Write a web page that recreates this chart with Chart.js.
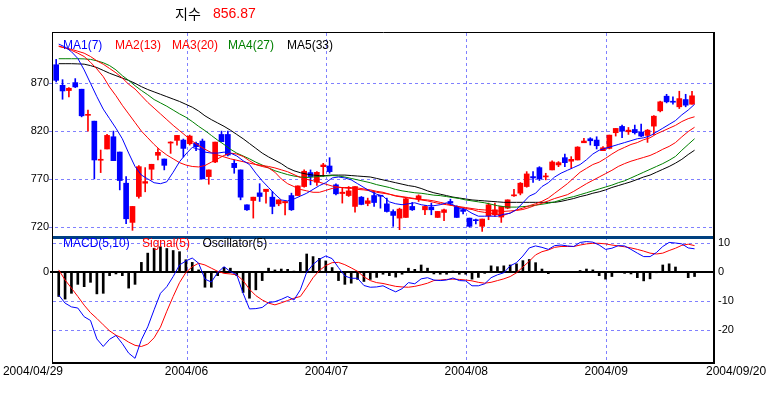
<!DOCTYPE html>
<html><head><meta charset="utf-8">
<script src="https://cdn.jsdelivr.net/npm/chart.js@4"></script>
<style>html,body{margin:0;padding:0;background:#fff;}canvas{display:block;}</style>
</head><body>
<canvas id="c" width="770" height="395"></canvas>
<script>
// ---------- data ----------
const firstDate = '2004/04/29';
const lastDate = '2004/09/20';
const monthLabels = ['2004/06', '2004/07', '2004/08', '2004/09'];
const monthStarts = [21, 43, 65, 87];           // trading-day index where each month begins
const slotCount = 103.8;                         // day slots shown on the x axis
const priceTicks = [720, 770, 820, 870];
const macdTicks = [10, 0, -10, -20];
const titleName = '지수';
const titleValue = '856.87';
const maNames = ['MA1(7)', 'MA2(13)', 'MA3(20)', 'MA4(27)', 'MA5(33)'];
const macdNames = ['MACD(5,10)', 'Signal(5)', 'Oscillator(5)'];

const opens = [889.4,867.9,862.4,870.7,863.8,836.5,830.4,789.5,801.3,814.1,
 798.1,765.5,724.5,751.6,765.5,780.1,794.7,790.8,807.5,810.3,
 810.6,806.8,807.2,809.6,772.4,787.7,816.5,816.5,786.3,779.4,
 742.9,747.4,755.4,756.8,750.9,743.9,745.0,752.6,752.6,762.0,
 776.6,766.5,782.8,783.5,763.8,754.7,752.6,741.2,750.9,744.3,
 752.6,752.6,743.9,735.9,729.0,729.7,741.2,749.2,737.7,740.5,
 729.7,734.9,746.4,741.2,737.7,729.0,726.9,720.4,731.5,732.5,
 730.1,739.4,752.3,755.1,762.0,772.4,781.8,772.1,779.4,784.6,
 792.2,788.5,789.8,807.8,812.0,810.6,799.5,801.9,818.3,824.9,
 819.3,821.7,819.0,815.5,825.2,841.2,856.5,850.9,845.4,853.0,
 848.1];
const highs = [895.0,873.8,865.5,874.9,863.8,841.9,830.4,800.2,816.5,820.0,
 798.1,772.4,741.2,783.9,781.8,785.3,801.6,790.8,808.9,815.5,
 811.7,815.8,808.5,811.7,779.4,808.5,820.0,820.0,789.8,779.4,
 742.9,750.9,765.0,759.2,756.8,748.1,746.4,755.1,762.7,779.4,
 779.4,777.6,786.3,792.2,764.8,760.3,762.0,762.0,751.6,749.9,
 756.8,752.6,749.9,737.7,739.4,749.9,745.4,753.3,742.2,744.7,
 736.0,738.4,748.8,741.9,739.4,729.0,728.0,728.0,744.7,744.7,
 741.2,748.1,759.2,766.2,777.6,777.6,782.8,775.9,788.8,788.1,
 796.0,793.3,803.7,812.4,813.1,814.1,803.7,815.8,822.8,826.3,
 823.8,826.3,827.3,821.7,836.3,851.3,858.5,855.8,861.7,858.5,
 861.7];
const lows = [871.4,853.3,855.8,865.5,834.9,820.0,770.0,776.6,801.3,789.1,
 758.5,723.1,716.2,749.9,756.5,769.0,789.8,779.4,796.7,805.4,
 792.9,805.4,799.5,770.0,764.4,787.0,808.9,794.0,775.9,748.1,
 737.0,729.0,746.4,744.7,733.5,741.9,732.2,737.0,752.6,761.3,
 763.8,763.1,772.4,775.9,753.3,744.7,751.6,735.1,742.9,741.9,
 741.2,739.4,735.3,720.4,716.9,729.7,737.0,746.4,732.5,732.5,
 729.7,726.3,742.9,729.7,733.5,719.7,722.8,715.1,727.3,730.8,
 724.5,738.8,751.6,753.3,761.3,766.2,768.3,769.0,779.4,782.8,
 782.8,781.1,789.8,807.8,805.4,801.3,799.5,801.3,814.8,813.1,
 816.5,816.9,814.1,808.2,816.2,840.1,849.5,848.1,843.6,845.4,
 848.1];
const closes = [873.1,862.0,864.8,866.2,836.0,837.0,789.8,790.0,815.5,789.1,
 768.3,728.3,741.2,782.8,767.2,785.3,797.8,784.2,808.2,815.5,
 801.9,814.8,803.7,770.0,779.4,808.5,808.9,795.0,781.8,750.9,
 737.7,750.9,751.6,759.2,741.2,748.1,746.4,737.7,762.7,778.0,
 772.4,776.9,784.6,777.6,754.4,756.1,757.5,762.0,743.3,747.1,
 745.3,751.9,735.9,731.8,738.4,749.2,737.7,752.3,741.2,737.7,
 736.0,737.7,744.7,729.7,736.0,720.4,726.3,728.0,742.9,737.7,
 741.2,748.1,753.0,765.5,775.2,771.0,770.0,772.8,787.7,787.0,
 787.0,790.5,803.3,809.6,809.9,804.7,802.6,815.8,822.8,820.0,
 821.0,818.3,814.8,821.0,835.6,850.6,850.6,850.2,854.0,847.1,
 856.9];

const ma1 = [911,908,903,896,884,870,856,843,833,823,
 812,797,783,774,770,766,765,767,777,788,
 796,803,801,798,797,797,798,797,794,789,
 785,776,768,761,754,748,747,749,752,755,
 759,763,766,771,772,771,769,765,761,757,
 754,752,746,744,743,744,745,743,742,742,
 743,745,743,739,738,734,731,731,731,731,
 733,734,738,745,752,755,762,766,772,776,
 779,782,785,790,796,800,802,804,806,808,
 810,812,813,815,819,823,827,831,837,842,
 848];
const ma2 = [909,907,904.5,901.5,898,892,885,877,866,857,
 847,838,829,820,813,806,800,795,791,787,
 784.5,783,782.5,784,787.5,791,794.5,797,796,793.5,
 789,785,783,781.5,777,770,765,762,759,757.5,
 756,756,758,760,761,761,761,760.5,759.5,758.5,
 757,756,754,752,751,750,749,748,747,745.5,
 744,743,742,740.5,739,738,736,735,734,733,
 732,734.5,737.5,739.5,742,744,746.5,750,755,760,
 765,771,777,781,785,787.5,791.5,796,800,803,
 806,808,811,813,817,820,823,826,830,833,
 835];
const ma3 = [908.5,907,905.5,903.5,901.5,898,893.5,890,885.5,881,
 875.5,869,864,857,850,844,838,832,826,820.5,
 815,809.5,805,801,797.5,795,793,791,789.5,788,
 786.5,785,784,783,781.5,779.5,777.5,774.5,771.5,769.5,
 768,766.5,764.5,762.5,761.5,760.5,760,759,758.5,757.5,
 756,755,754,752.5,751.5,750.5,749.5,748.5,748,747,
 745.5,744,742,741,740,739,738,737.5,737,736.5,
 736,736.5,737,738,740,742.5,744.5,747,749.5,751.5,
 753.5,757,761,765,768.5,772,775.5,779,783,786,
 788.5,790.5,792.5,794.5,797.5,801,804,808,814,819.5,
 824];
const ma4 = [895.7,895.7,895.7,895.7,895.5,895,893.5,891.5,888.5,884,
 878,873,867.5,862.5,858,853,849.5,846,842,838,
 834.5,830,825,820.5,815.5,810.5,806,801,797,794,
 791,787.5,784.5,781.5,778.5,776.5,774.5,773,772,771.5,
 772,772.5,773,773.5,773,772,770.5,769,767.5,766,
 764,762.5,761,759,757.5,756.5,755.5,755,754,753,
 752.5,751.5,750.5,749.5,748,747,746,745,743.5,742,
 741,740.5,740.5,741,741.5,742.5,743.5,744.5,746,748,
 750,751.5,753.5,755.5,757.5,759.5,761.5,763.5,766,768,
 771,774,777,780,783,786,789.5,793.5,800,806,
 812];
const ma5 = [890.5,890.5,890.5,890.3,890,888.5,886.5,883.5,880.5,878,
 875.5,873,870,866.5,863.5,861,858.5,856,853.5,851,
 848,845,841,836,832,828.5,825,821,816.5,812,
 807,802,797,793,789.5,786,781.5,778.5,776.5,775,
 774,773.5,773.5,774,774,774,773.5,773,772.5,772,
 770.5,769,767.5,766,764.5,763,762,760,757.5,755.5,
 754,752.5,751,750,749,748,747.5,747,746.5,746,
 745.5,745.5,745.5,745.5,745.5,745.5,745.5,745.5,745.5,746.5,
 748,749.5,751.5,753,755,756.5,758.5,761,763,765,
 767,769.5,772,774,777,780,783,786.5,790.5,795.5,
 800];

const macd = [-7.9,-10.7,-12.0,-12.4,-15.4,-16.7,-23.1,-25.7,-23.2,-21.9,
 -24.7,-28.0,-29.8,-23.4,-18.9,-13.0,-7.3,-5.0,-1.5,2.5,
 3.9,4.9,3.1,-2.4,-3.4,-0.1,1.9,0.2,-0.9,-7.3,
 -12.7,-12.6,-12.2,-10.5,-10.2,-9.4,-8.4,-9.6,-6.1,0.0,
 2.7,4.5,5.6,4.7,1.6,-1.3,-2.1,-2.1,-4.6,-5.2,
 -5.1,-4.7,-5.8,-6.8,-5.7,-3.6,-4.0,-2.3,-1.9,-2.7,
 -2.9,-2.7,-2.0,-2.9,-3.0,-4.7,-4.7,-4.0,-1.9,-0.9,
 -0.2,2.2,3.3,5.6,8.4,9.1,8.6,7.9,9.2,9.4,
 9.1,8.9,10.3,10.6,10.4,9.4,7.9,8.3,9.2,9.1,
 7.9,6.6,5.4,5.4,6.8,8.9,10.3,10.1,9.8,8.4,
 8.1];
const signal = [0.8,-2.7,-5.5,-8.4,-11.4,-14.0,-16.0,-18.2,-20.3,-21.8,
 -22.8,-24.2,-25.3,-25.7,-24.9,-22.7,-19.0,-13.5,-8.4,-3.6,
 -0.1,1.9,3.1,2.5,1.4,0.3,-0.4,-0.6,-0.9,-2.9,
 -5.9,-8.1,-9.6,-10.7,-11.3,-10.6,-9.8,-9.0,-8.4,-5.3,
 -1.9,0.6,2.3,3.3,3.4,2.6,1.5,0.3,-1.6,-2.9,
 -3.6,-3.9,-4.4,-4.9,-5.1,-5.2,-4.9,-4.4,-3.8,-2.9,
 -2.7,-2.5,-2.4,-2.5,-2.7,-3.0,-3.5,-3.8,-3.5,-2.9,
 -2.3,-1.5,-0.2,1.8,3.8,6.0,7.1,7.7,8.6,8.9,
 8.9,8.9,9.4,9.8,10.0,10.0,9.8,9.4,9.1,8.8,
 8.4,7.9,7.3,6.6,6.3,6.6,7.5,8.3,9.3,9.7,
 9.2];
const osc = [-8.4,-9.3,-7.3,-4.2,-5.0,-3.5,-7.5,-7.3,-1.2,-0.6,
 -1.2,-5.5,-4.2,3.4,6.6,8.3,8.8,8.2,7.5,7.1,
 4.3,3.4,0.8,-5.2,-5.2,-1.2,1.7,1.4,-1.2,-7.0,
 -9.0,-6.1,-2.9,1.4,0.8,1.1,1.0,0.4,3.4,6.3,
 5.4,4.8,3.9,1.6,-2.9,-4.2,-3.8,-2.5,-3.2,-2.5,
 -1.8,-0.7,-1.2,-1.7,-0.7,1.4,1.0,2.5,1.4,-0.6,
 -0.7,-0.7,0.4,-0.7,-0.7,-2.4,-1.8,-0.4,2.2,1.9,
 2.2,2.5,2.9,4.0,4.4,3.3,1.1,-0.5,0.3,0.3,
 0.1,0.1,0.6,1.1,0.8,-1.2,-2.4,-1.5,-0.1,-0.4,
 -0.6,-1.9,-3.0,-2.3,-0.2,2.5,2.9,1.8,0.3,-1.9,
 -1.5];

// ---------- styling ----------
const UP = '#ff0000', DOWN = '#0000ff';
const GRID = '#8080ff';
const FONT = '"Liberation Sans", Arial, sans-serif';
function hasFont(name) {
  const c = document.createElement('canvas').getContext('2d');
  const s = '2004/06 870 MA1(7)';
  c.font = '14px monospace'; const a = c.measureText(s).width;
  c.font = '14px serif'; const b = c.measureText(s).width;
  c.font = '14px "' + name + '", monospace'; const a2 = c.measureText(s).width;
  c.font = '14px "' + name + '", serif'; const b2 = c.measureText(s).width;
  return a2 !== a && b2 !== b;
}
const NARROW = hasFont('Liberation Sans Narrow');
const AXIS_FAMILY = NARROW ? '"Liberation Sans Narrow", "Liberation Sans", sans-serif' : FONT;
const X_SIZE = NARROW ? 14 : 12;
const Y_SIZE = NARROW ? 13 : 11;
const CANDLE_X = 0.5, LINE_X = 0.9;
const maColors = ['#0000ff', '#ff0000', '#ff0000', '#008000', '#000000'];
const macdColors = ['#0000ff', '#ff0000', '#000000'];
const candleColor = i => (closes[i] >= opens[i] ? UP : DOWN);

const wickData = closes.map((c, i) => ({ x: i + CANDLE_X, y: [lows[i], highs[i]] }));
const bodyData = closes.map((c, i) => ({ x: i + CANDLE_X, y: [opens[i], c] }));
const asLine = arr => arr.map((v, i) => ({ x: i + LINE_X, y: v }));

const lineDs = (data, color, axis) => ({
  type: 'line', data: asLine(data), yAxisID: axis, borderColor: color,
  borderWidth: 1, pointRadius: 0, tension: 0, fill: false, order: 1
});

const deco = {
  id: 'deco',
  beforeDatasetsDraw(chart) {
    const { ctx, chartArea: a, scales } = chart;
    const px = scales.x, py = scales.y, pm = scales.y2;
    ctx.save();
    ctx.strokeStyle = GRID; ctx.lineWidth = 1; ctx.setLineDash([3, 3]);
    ctx.beginPath();
    priceTicks.forEach(v => { const y = Math.round(py.getPixelForValue(v)) + 0.5; ctx.moveTo(a.left - 4, y); ctx.lineTo(a.right, y); });
    macdTicks.filter(v => v !== 0).forEach(v => { const y = Math.round(pm.getPixelForValue(v)) + 0.5; ctx.moveTo(a.left, y); ctx.lineTo(a.right, y); });
    monthStarts.forEach(v => { const x = Math.round(px.getPixelForValue(v)) + 0.5; ctx.moveTo(x, a.top); ctx.lineTo(x, a.bottom); });
    ctx.stroke();
    ctx.setLineDash([]);
    ctx.strokeStyle = '#000'; ctx.lineWidth = 2;
    const y0 = Math.round(pm.getPixelForValue(0));
    ctx.beginPath(); ctx.moveTo(a.left - 3, y0); ctx.lineTo(a.right, y0); ctx.stroke();
    ctx.restore();
  },
  afterDraw(chart) {
    const { ctx, chartArea: a, scales } = chart;
    const px = scales.x, pm = scales.y2;
    ctx.save();
    // frame
    ctx.strokeStyle = '#000';
    ctx.lineWidth = 1;
    ctx.beginPath();
    ctx.moveTo(a.left - 0.5, a.top - 1); ctx.lineTo(a.left - 0.5, a.bottom + 2);
    ctx.moveTo(a.left - 1, a.top - 0.5); ctx.lineTo(a.right + 2, a.top - 0.5);
    ctx.stroke();
    ctx.lineWidth = 2;
    ctx.beginPath();
    ctx.moveTo(a.right + 1, a.top - 1); ctx.lineTo(a.right + 1, a.bottom + 2);
    ctx.moveTo(a.left - 1, a.bottom + 1); ctx.lineTo(a.right + 2, a.bottom + 1);
    ctx.stroke();
    // panel separator
    ctx.fillStyle = '#004080';
    ctx.fillRect(a.left, 236, a.right - a.left, 3);

    ctx.textBaseline = 'middle';
    // title
    ctx.textAlign = 'left';
    ctx.fillStyle = '#000';
    ctx.font = '14px "Noto Sans CJK KR", sans-serif';
    ctx.fillText(titleName, 175, 14);
    ctx.fillStyle = '#ff0000';
    ctx.font = '14px ' + FONT;
    ctx.fillText(titleValue, 213, 14);

    ctx.font = '12px ' + FONT;
    // MA legend
    const maX = [63, 115, 172, 228, 287];
    maNames.forEach((t, k) => { ctx.fillStyle = maColors[k]; ctx.fillText(t, maX[k], 46); });
    // MACD legend
    const mX = [63, 142, 202.5];
    macdNames.forEach((t, k) => { ctx.fillStyle = macdColors[k]; ctx.fillText(t, mX[k], 244); });

    // x labels
    ctx.font = X_SIZE + 'px ' + AXIS_FAMILY;
    ctx.fillStyle = '#000';
    const ly = 372;
    ctx.textAlign = 'right';
    ctx.fillText(firstDate, a.left + 10, ly);
    ctx.textAlign = 'center';
    monthStarts.forEach((v, k) => ctx.fillText(monthLabels[k], px.getPixelForValue(v), ly));
    ctx.textAlign = 'left';
    ctx.fillText(lastDate, a.right - 7, ly);

    // left "0" label for the MACD panel
    ctx.font = Y_SIZE + 'px ' + AXIS_FAMILY;
    ctx.textAlign = 'right';
    ctx.fillText('0', a.left - 4, pm.getPixelForValue(0));
    ctx.restore();
  }
};

new Chart(document.getElementById('c'), {
  type: 'bar',
  data: {
    datasets: [
      lineDs(ma1, maColors[0], 'y'),
      lineDs(ma2, maColors[1], 'y'),
      lineDs(ma3, maColors[2], 'y'),
      lineDs(ma4, maColors[3], 'y'),
      lineDs(ma5, maColors[4], 'y'),
      lineDs(macd, macdColors[0], 'y2'),
      lineDs(signal, macdColors[1], 'y2'),
      { type: 'bar', data: bodyData, yAxisID: 'y', grouped: false, barThickness: 5, minBarLength: 1,
        borderWidth: 0, backgroundColor: c => candleColor(c.dataIndex), order: 2 },
      { type: 'bar', data: wickData, yAxisID: 'y', grouped: false, barThickness: 1, minBarLength: 1,
        borderWidth: 0, backgroundColor: c => candleColor(c.dataIndex), order: 3 },
      { type: 'bar', data: osc.map((v, i) => ({ x: i + LINE_X, y: v })), yAxisID: 'y2', grouped: false,
        barThickness: 2, borderWidth: 0, backgroundColor: '#000', order: 4 }
    ]
  },
  options: {
    responsive: false, animation: false, devicePixelRatio: 1, events: [],
    layout: { padding: { top: 33, left: 0, right: 0, bottom: 0 } },
    plugins: { legend: { display: false }, tooltip: { enabled: false }, title: { display: false } },
    scales: {
      x: {
        type: 'linear', min: 0, max: slotCount, offset: false,
        ticks: { display: false }, grid: { display: false, drawTicks: false }, border: { display: false },
        afterFit: s => { s.height = 33; s.paddingLeft = 0; s.paddingRight = 0; }
      },
      y: {
        position: 'left', min: 578.5, max: 922.6,
        afterBuildTicks: s => { s.ticks = priceTicks.map(v => ({ value: v })); },
        ticks: { font: { family: AXIS_FAMILY, size: Y_SIZE }, color: '#000', padding: 4, autoSkip: false },
        grid: { display: false, drawTicks: false }, border: { display: false },
        afterFit: s => { s.width = 53; s.paddingTop = 0; s.paddingBottom = 0; }
      },
      y2: {
        position: 'right', min: -31.07, max: 82.77,
        afterBuildTicks: s => { s.ticks = macdTicks.map(v => ({ value: v })); },
        ticks: { font: { family: AXIS_FAMILY, size: Y_SIZE }, color: '#000', padding: 5, autoSkip: false },
        grid: { display: false, drawTicks: false }, border: { display: false },
        afterFit: s => { s.width = 57; s.paddingTop = 0; s.paddingBottom = 0; }
      }
    }
  },
  plugins: [deco]
});
</script>
</body></html>
